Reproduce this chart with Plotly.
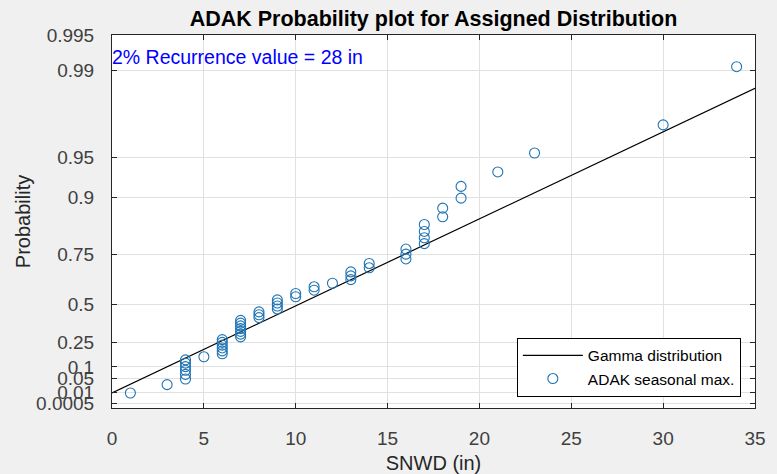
import math
import plotly.graph_objects as go

# ---------------- data ----------------
snwd_in = [1, 3,
           4, 4, 4, 4, 4, 4,
           5,
           6, 6, 6, 6, 6, 6,
           7, 7, 7, 7, 7, 7, 7,
           8, 8, 8,
           9, 9, 9, 9,
           10, 10,
           11, 11,
           12,
           13, 13, 13,
           14, 14,
           16, 16, 16,
           17, 17, 17, 17,
           18, 18,
           19, 19,
           21, 23, 30, 34]

prob_tick_values = [0.0005, 0.01, 0.05, 0.1, 0.25, 0.5, 0.75, 0.9, 0.95, 0.99, 0.995]
prob_tick_labels = ["0.0005", "0.01", "0.05", "0.1", "0.25", "0.5", "0.75",
                    "0.9", "0.95", "0.99", "0.995"]
x_tick_values = [0, 5, 10, 15, 20, 25, 30, 35]

fit_line_x = [0, 35]
fit_line_prob = [0.0095, 0.986]

recurrence_text = "2% Recurrence value = 28 in"
title_text = "ADAK Probability plot for Assigned Distribution"
GAMMA_SHAPE = 2.8


# ---------------- gamma probability-scale helpers ----------------
def gamma_cdf(x, k):
    if x <= 0:
        return 0.0
    term = 1.0 / k
    s = term
    for n in range(1, 400):
        term *= x / (k + n)
        s += term
        if term < 1e-16 * s:
            break
    return s * math.exp(-x + k * math.log(x) - math.lgamma(k))


def gamma_ppf(p, k):
    if p <= 0:
        return 0.0
    lo, hi = 0.0, 200.0
    for _ in range(200):
        mid = 0.5 * (lo + hi)
        if gamma_cdf(mid, k) < p:
            lo = mid
        else:
            hi = mid
    return 0.5 * (lo + hi)


def prob_to_axis(p):
    return gamma_ppf(p, GAMMA_SHAPE)


n = len(snwd_in)
plot_pos = [(i - 0.5) / n for i in range(1, n + 1)]
point_y = [prob_to_axis(p) for p in plot_pos]
line_y = [prob_to_axis(p) for p in fit_line_prob]
tick_y = [prob_to_axis(p) for p in prob_tick_values]

FONT = "Liberation Sans, Arial, Helvetica, sans-serif"
AX_COLOR = "#262626"
GRID = "#e1e1e1"
MARK = "#1f74b4"

fig = go.Figure()
fig.add_trace(go.Scatter(
    x=fit_line_x, y=line_y, mode="lines",
    line=dict(color="black", width=1.2),
    name="Gamma distribution"))
fig.add_trace(go.Scatter(
    x=snwd_in, y=point_y, mode="markers",
    marker=dict(symbol="circle-open", size=10, color=MARK,
                line=dict(width=1.1, color=MARK)),
    name="ADAK seasonal max."))

fig.update_layout(
    width=777, height=474,
    margin=dict(l=112, r=22, t=35, b=66, autoexpand=False),
    paper_bgcolor="#f0f0f0",
    plot_bgcolor="white",
    font=dict(family=FONT, size=19, color="#404040"),
    title=dict(text="<b>" + title_text + "</b>", x=(112 + 755) / 2 / 777,
               xanchor="center", y=1 - 18 / 474, yanchor="middle",
               font=dict(size=21.5, color="black", family=FONT)),
    showlegend=True,
    legend=dict(x=0.978, y=0.03, xanchor="right", yanchor="bottom",
                bgcolor="white", bordercolor="black", borderwidth=1,
                font=dict(size=15.5, color="black", family=FONT),
                traceorder="normal", tracegroupgap=0, itemwidth=60),
    annotations=[dict(text=recurrence_text, xref="paper", yref="paper",
                      x=-0.003, y=(408 - 57) / 373, xanchor="left", yanchor="middle",
                      showarrow=False, font=dict(size=19.5, color="#0000ff", family=FONT))],
)

fig.update_xaxes(
    range=[0, 35], tickvals=x_tick_values, ticktext=[str(v) for v in x_tick_values],
    showgrid=True, gridcolor=GRID, gridwidth=1, zeroline=False, automargin=False,
    showline=True, linecolor=AX_COLOR, linewidth=1, mirror="allticks",
    ticks="inside", ticklen=5, tickcolor=AX_COLOR, ticklabelstandoff=13,
    title=dict(text="SNWD (in)", standoff=10, font=dict(size=20, color="#262626")),
)
fig.update_yaxes(
    range=[0, prob_to_axis(0.995)], tickvals=tick_y, ticktext=prob_tick_labels,
    showgrid=True, gridcolor=GRID, gridwidth=1, zeroline=False, automargin=False,
    showline=True, linecolor=AX_COLOR, linewidth=1, mirror="allticks",
    ticks="inside", ticklen=5, tickcolor=AX_COLOR, ticklabelstandoff=13,
    title=dict(text="Probability", standoff=0, font=dict(size=20, color="#262626")),
)

fig.write_html("out.html", config={"displayModeBar": False},
               post_script="document.body.style.margin='0px';")
